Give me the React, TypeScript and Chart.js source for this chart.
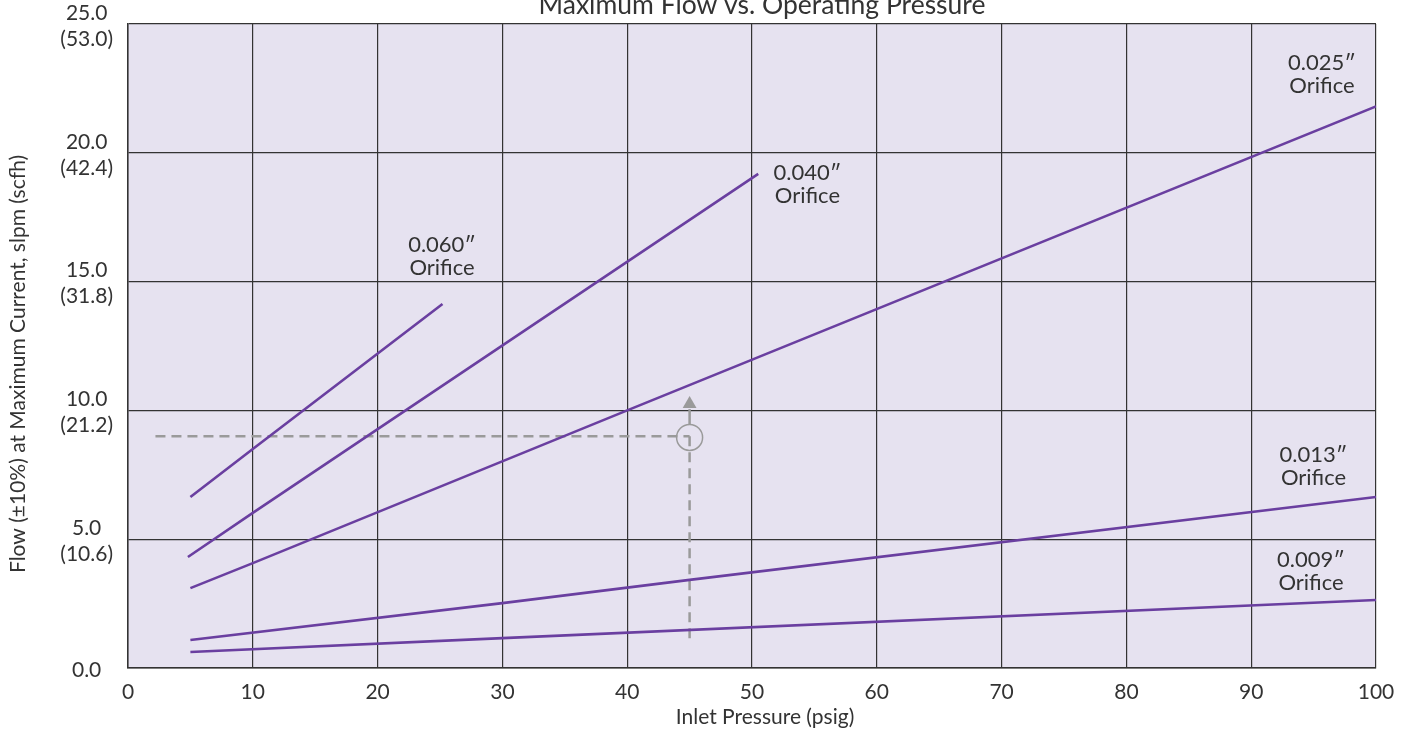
import React, { useEffect, useRef } from "react";
import { Chart, registerables } from "chart.js";

Chart.register(...registerables);

const chartTitle = "Maximum Flow vs. Operating Pressure";
const xAxisTitle = "Inlet Pressure (psig)";
const yAxisTitle = "Flow (±10%) at Maximum Current, slpm (scfh)";

const yTickLabels = [
  ["0.0"],
  ["5.0", "(10.6)"],
  ["10.0", "(21.2)"],
  ["15.0", "(31.8)"],
  ["20.0", "(42.4)"],
  ["25.0", "(53.0)"],
];

// Inlet pressure (psig) / flow (slpm) for each orifice curve
const orifice060Pressure = [5, 10, 25.2];
const orifice060Flow = [6.64, 8.5, 14.13];
const orifice040Pressure = [4.8, 10, 50.5];
const orifice040Flow = [4.31, 6.02, 19.18];
const orifice025Pressure = [5, 10, 40, 100];
const orifice025Flow = [3.1, 4.07, 10.0, 21.8];
const orifice013Pressure = [5, 30, 45, 100];
const orifice013Flow = [1.09, 2.52, 3.42, 6.64];
const orifice009Pressure = [5, 30, 100];
const orifice009Flow = [0.62, 1.16, 2.64];

// Orifice labels (centre of the two-line label)
const orificeNames = ["0.060″", "0.040″", "0.025″", "0.013″", "0.009″"];
const labelPressure = [25.16, 54.44, 95.67, 94.99, 94.79];
const labelFlow = [15.99, 18.77, 23.06, 7.82, 3.75];

// Example reading (dashed guide)
const guideHPressure = [2.2, 45];
const guideHFlow = [9.0, 9.0];
const guideVPressure = [45, 45];
const guideVFlow = [9.0, 0.97];
const markerPressure = [45];
const markerFlow = [8.95];
const arrowShaftPressure = [45, 45];
const arrowShaftFlow = [9.45, 10.05];
const arrowHeadPressure = [45];
const arrowHeadFlow = [10.25];

const PURPLE = "#6a3fa0";
const GRAY = "#9a9a9a";
const BG = "#e6e2f0";
const GRID = "#333333";
const TEXT = "#333333";
const FONT = "Lato";

const pts = (xs: number[], ys: number[]) => xs.map((x, i) => ({ x, y: ys[i] }));

export default function App() {
  const ref = useRef<HTMLCanvasElement | null>(null);

  useEffect(() => {
    if (!ref.current) return;

    const bgPlugin = {
      id: "bg",
      beforeDraw(chart: any) {
        const { ctx, chartArea } = chart;
        ctx.save();
        ctx.fillStyle = BG;
        ctx.fillRect(chartArea.left, chartArea.top, chartArea.right - chartArea.left, chartArea.bottom - chartArea.top);
        ctx.restore();
      },
    };

    const textPlugin = {
      id: "texts",
      afterDraw(chart: any) {
        const { ctx, scales } = chart;
        const xs = scales.x;
        const ys = scales.y;
        ctx.save();
        ctx.fillStyle = TEXT;
        ctx.textAlign = "center";
        ctx.textBaseline = "middle";
        ctx.font = `22px ${FONT}`;
        orificeNames.forEach((name, i) => {
          const px = xs.getPixelForValue(labelPressure[i]);
          const py = ys.getPixelForValue(labelFlow[i]);
          ctx.fillText(name, px, py - 11.5);
          ctx.fillText("Orifice", px, py + 11.5);
        });
        // chart title (partly cut off at top)
        ctx.font = `26.5px ${FONT}`;
        ctx.textBaseline = "alphabetic";
        ctx.fillText(chartTitle, 762, 14);
        // x axis title
        ctx.font = `21px ${FONT}`;
        ctx.textBaseline = "middle";
        ctx.fillText(xAxisTitle, 765, 717);
        // y axis title
        ctx.translate(18, 364);
        ctx.rotate(-Math.PI / 2);
        ctx.fillText(yAxisTitle, 0, 0);
        ctx.restore();
      },
    };

    const curve = (xs: number[], ys: number[]) => ({
      data: pts(xs, ys),
      showLine: true,
      borderColor: PURPLE,
      borderWidth: 2.6,
      pointRadius: 0,
      fill: false,
    });

    const chart = new Chart(ref.current, {
      type: "scatter",
      data: {
        datasets: [
          curve(orifice060Pressure, orifice060Flow),
          curve(orifice040Pressure, orifice040Flow),
          curve(orifice025Pressure, orifice025Flow),
          curve(orifice013Pressure, orifice013Flow),
          curve(orifice009Pressure, orifice009Flow),
          {
            data: pts(guideHPressure, guideHFlow),
            showLine: true,
            borderColor: GRAY,
            borderWidth: 2.5,
            borderDash: [10, 6],
            pointRadius: 0,
          },
          {
            data: pts(guideVPressure, guideVFlow),
            showLine: true,
            borderColor: GRAY,
            borderWidth: 2.5,
            borderDash: [10, 6],
            pointRadius: 0,
          },
          {
            data: pts(markerPressure, markerFlow),
            pointStyle: "circle",
            pointRadius: 13,
            pointBorderWidth: 1.5,
            pointBorderColor: GRAY,
            pointBackgroundColor: "rgba(0,0,0,0)",
          },
          {
            data: pts(arrowShaftPressure, arrowShaftFlow),
            showLine: true,
            borderColor: GRAY,
            borderWidth: 2.5,
            pointRadius: 0,
          },
          {
            data: pts(arrowHeadPressure, arrowHeadFlow),
            pointStyle: "triangle",
            pointRadius: 8,
            pointBorderWidth: 0,
            pointBorderColor: GRAY,
            pointBackgroundColor: GRAY,
          },
        ] as any,
      },
      options: {
        animation: false,
        responsive: false,
        devicePixelRatio: 1,
        layout: { padding: { top: 24, right: 30, bottom: 0, left: 0 } },
        plugins: {
          legend: { display: false },
          tooltip: { enabled: false },
          title: { display: false },
        },
        scales: {
          x: {
            type: "linear",
            min: 0,
            max: 100,
            ticks: {
              stepSize: 10,
              padding: 12,
              color: TEXT,
              font: { family: FONT, size: 21 },
              maxRotation: 0,
            },
            grid: { color: GRID, lineWidth: 1.2, drawTicks: false },
            border: { color: GRID, width: 1.5 },
            afterFit(scale: any) {
              scale.height = 63;
              scale.paddingLeft = 0;
              scale.paddingRight = 0;
            },
          },
          y: {
            type: "linear",
            min: 0,
            max: 25,
            ticks: {
              stepSize: 5,
              padding: 15,
              labelOffset: 2,
              crossAlign: "center",
              color: TEXT,
              font: { family: FONT, size: 21, lineHeight: 1.24 },
              callback: (_v: any, i: number) => yTickLabels[i],
            },
            grid: { color: GRID, lineWidth: 1.2, drawTicks: false },
            border: { color: GRID, width: 1.5 },
            afterFit(scale: any) {
              scale.width = 128;
              scale.paddingTop = 0;
              scale.paddingBottom = 0;
            },
          },
        },
      } as any,
      plugins: [bgPlugin, textPlugin],
    });

    return () => chart.destroy();
  }, []);

  return (
    <div style={{ position: "absolute", left: 0, top: 0, width: 1406, height: 731 }}>
      <canvas ref={ref} width={1406} height={731} style={{ display: "block" }} />
    </div>
  );
}
